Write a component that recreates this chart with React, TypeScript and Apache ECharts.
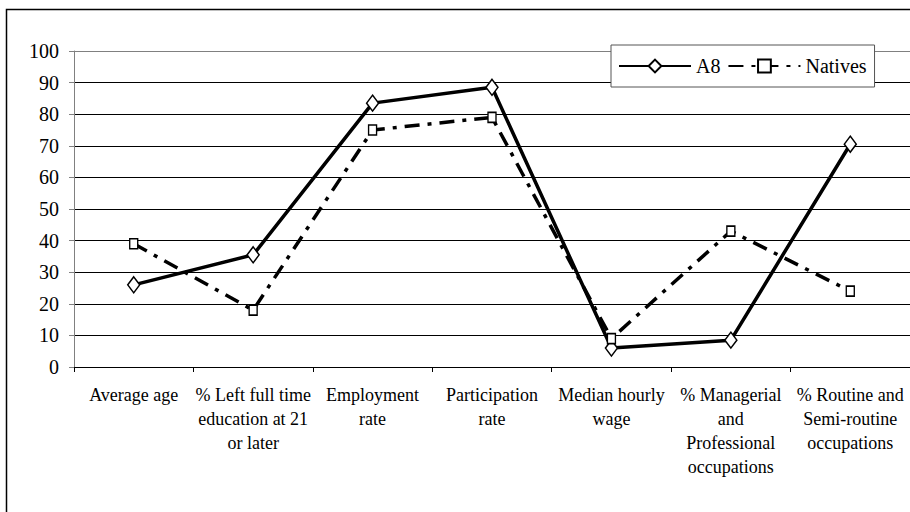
import React, { useEffect, useRef } from "react";
import * as echarts from "echarts";

const categories = [
  "Average age",
  "% Left full time\neducation at 21\nor later",
  "Employment\nrate",
  "Participation\nrate",
  "Median hourly\nwage",
  "% Managerial\nand\nProfessional\noccupations",
  "% Routine and\nSemi-routine\noccupations",
];
const a8Values = [26, 35.5, 83.5, 88.5, 6, 8.5, 70.5];
const nativesValues = [39, 18, 75, 79, 9, 43, 24];
const seriesNames = ["A8", "Natives"];

const FONT = "Liberation Serif";

export default function App() {
  const ref = useRef<HTMLDivElement>(null);
  useEffect(() => {
    document.body.style.margin = "0";
    const chart = echarts.init(ref.current!, null, { renderer: "svg" });
    const gridColors = ["#000", "#000", "#000", "#000", "#000", "#000", "#000", "#000", "#000", "#000", "#808080"];
    chart.setOption({
      animation: false,
      backgroundColor: "#fff",
      graphic: [
        {
          type: "rect",
          shape: { x: 6.5, y: 9.5, width: 1000, height: 1000 },
          style: { fill: "none", stroke: "#000", lineWidth: 1.5 },
          silent: true,
          z: 100,
        },
      ],
      grid: { left: 74, right: 0, top: 51, bottom: 145, outerBoundsMode: "none", containLabel: false },
      legend: {
        left: 611,
        top: 45,
        orient: "horizontal",
        data: seriesNames,
        backgroundColor: "#fff",
        borderColor: "#555",
        borderWidth: 1,
        padding: [11, 8, 11, 7],
        itemWidth: 72,
        itemHeight: 16,
        itemGap: 7,
        textStyle: { fontFamily: FONT, fontSize: 20, color: "#000" },
        z: 10,
      },
      xAxis: {
        type: "category",
        data: categories,
        boundaryGap: true,
        axisLine: { lineStyle: { color: "#000", width: 1 } },
        axisTick: { show: true, length: 5, alignWithLabel: false, lineStyle: { color: "#000" } },
        axisLabel: {
          interval: 0,
          margin: 16,
          fontFamily: FONT,
          fontSize: 18,
          lineHeight: 24,
          color: "#000",
          align: "center",
        },
        splitLine: { show: false },
      },
      yAxis: {
        type: "value",
        min: 0,
        max: 100,
        interval: 10,
        axisLine: { show: true, lineStyle: { color: "#808080", width: 1 } },
        axisTick: { show: true, length: 5, lineStyle: { color: "#808080" } },
        axisLabel: { margin: 15, fontFamily: FONT, fontSize: 20, color: "#000" },
        splitLine: { show: true, lineStyle: { color: gridColors, width: 1 } },
      },
      series: [
        {
          name: seriesNames[0],
          type: "line",
          data: a8Values,
          symbol: "diamond",
          symbolSize: [12, 16],
          showAllSymbol: true,
          lineStyle: { color: "#000", width: 3.5, type: "solid" },
          itemStyle: { color: "#fff", borderColor: "#000", borderWidth: 1.5 },
          z: 3,
        },
        {
          name: seriesNames[1],
          type: "line",
          data: nativesValues,
          symbol: "rect",
          symbolSize: [8, 10],
          showAllSymbol: true,
          lineStyle: { color: "#000", width: 3.5, type: [15, 8, 4, 8] },
          itemStyle: { color: "#fff", borderColor: "#000", borderWidth: 1.5 },
          z: 4,
        },
      ],
    });
    return () => chart.dispose();
  }, []);
  return (
    <div
      ref={ref}
      style={{ position: "absolute", left: 0, top: 0, width: 910, height: 512 }}
    />
  );
}
